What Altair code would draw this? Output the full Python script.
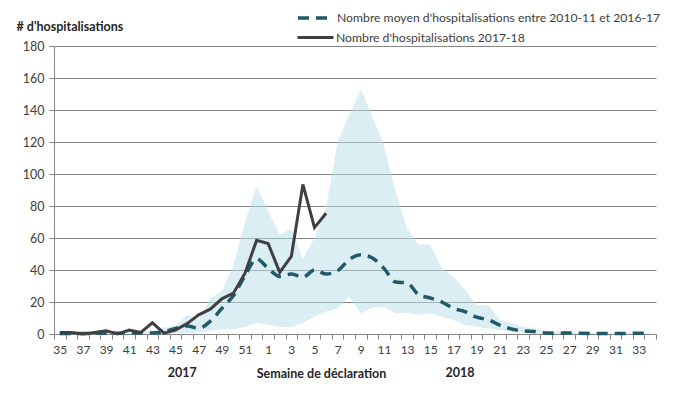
import altair as alt
import pandas as pd

weeks = ["35", "36", "37", "38", "39", "40", "41", "42", "43", "44", "45", "46",
         "47", "48", "49", "50", "51", "52", "1", "2", "3", "4", "5", "6", "7",
         "8", "9", "10", "11", "12", "13", "14", "15", "16", "17", "18", "19",
         "20", "21", "22", "23", "24", "25", "26", "27", "28", "29", "30", "31",
         "32", "33", "34"]

mean_hosp = [0.3, 0.3, 0.3, 0.4, 0.5, 0.5, 0.8, 0.6, 0.7, 1.5, 3.5, 5, 3.5, 8,
             16, 24, 36.5, 47, 41, 36, 37.5, 35.5, 40, 37.5, 39.5, 46.5, 49.5,
             47.5, 41, 32.5, 32, 24.5, 22.5, 20, 16, 14, 10.5, 9, 5.5, 3.2, 2,
             1.5, 0.6, 0.5, 0.6, 0.4, 0.3, 0.3, 0.3, 0.3, 0.5, 0.3]

hosp_1718 = [1, 1, 0, 1, 2, 0, 2.5, 1, 7, 0.5, 2.5, 6.5, 12, 15.5, 22, 25.5,
             38, 58.5, 56.5, 38.5, 48.5, 93.5, 66.5, 75.5]

band_max = [0.5, 0.5, 0.5, 1, 1, 1, 1.5, 1.5, 2, 4, 5, 12, 9, 22, 27, 43, 70,
            92, 77, 62, 66, 47, 60, 79, 120, 137, 153, 136, 118, 89, 66, 56,
            56, 41, 36, 28, 18, 18, 9, 7, 4.6, 3.5, 2, 1.5, 1.5, 1, 1, 1, 1, 1,
            1, 1]

band_min = [0, 0, 0, 0, 0, 0, 0, 0, 0, 0, 0.5, 0.5, 1, 2, 3, 3, 4.5, 7, 6,
            4.6, 4.2, 7, 10.8, 14, 16, 23.5, 13, 16.5, 17, 13, 13.3, 12, 13,
            10.8, 8.75, 5.6, 4.6, 3.5, 2.5, 1.5, 1, 0.5, 0, 0, 0, 0, 0, 0, 0,
            0, 0, 0]

label_weeks = ["35", "37", "39", "41", "43", "45", "47", "49", "51", "1", "3",
               "5", "7", "9", "11", "13", "15", "17", "19", "21", "23", "25",
               "27", "29", "31", "33"]

y_ticks = [0, 20, 40, 60, 80, 100, 120, 140, 160, 180]

year_labels = ["2017", "2018"]
year_weeks = ["46", "18"]

name_mean = "Nombre moyen d'hospitalisations entre 2010-11 et 2016-17"
name_1718 = "Nombre d'hospitalisations 2017-18"

FONT = "Lato"
W, H = 602, 288

df_band = pd.DataFrame({"week": weeks, "lo": band_min, "hi": band_max})
df_mean = pd.DataFrame({"week": weeks, "v": mean_hosp, "s": name_mean})
df_cur = pd.DataFrame({"week": weeks[:len(hosp_1718)], "v": hosp_1718, "s": name_1718})
df_years = pd.DataFrame({"week": year_weeks, "t": year_labels})

label_expr = "indexof([" + ",".join("'" + w + "'" for w in label_weeks) + "], datum.value) >= 0 ? datum.value : ''"

xscale = alt.Scale(type="band", domain=weeks, paddingInner=0, paddingOuter=0)
x_axis = alt.Axis(labelExpr=label_expr, tickBand="extent", labelAngle=0,
                  title="Semaine de déclaration", titleX=267, titleY=39,
                  titleBaseline="middle",
                  titleFont=FONT, titleFontSize=12.5, titleFontWeight="bold",
                  titleColor="#262626",
                  labelFont=FONT, labelFontSize=12, labelColor="#404040",
                  labelPadding=5, tickSize=5, tickColor="#868686",
                  domainColor="#868686", grid=False)
yscale = alt.Scale(domain=[0, 180], nice=False)
y_axis = alt.Axis(values=y_ticks, labelOverlap=False,
                  title="# d'hospitalisations", titleAngle=0, titleAlign="left",
                  titleX=-38, titleY=-20, titleBaseline="middle",
                  titleFont=FONT, titleFontSize=12.5, titleFontWeight="bold",
                  titleColor="#262626",
                  labelFont=FONT, labelFontSize=12.5, labelColor="#404040",
                  labelPadding=5, tickSize=5, tickColor="#868686",
                  domain=True, domainColor="#868686",
                  gridColor="#868686", gridWidth=1)

band = alt.Chart(df_band).mark_area(color="#b5dde8", opacity=0.5).encode(
    x=alt.X("week:O", scale=xscale, bandPosition=0.5, axis=x_axis),
    y=alt.Y("hi:Q", scale=yscale, axis=y_axis),
    y2="lo:Q",
)

mean_line = alt.Chart(df_mean).mark_line(strokeWidth=3.5, strokeDash=[11, 7],
                                         interpolate="monotone").encode(
    x=alt.X("week:O", scale=xscale, bandPosition=0.5, axis=x_axis),
    y=alt.Y("v:Q", scale=yscale, axis=y_axis),
    color=alt.Color("s:N", scale=alt.Scale(domain=[name_mean], range=["#215968"]),
                    legend=alt.Legend(orient="none", legendX=242, legendY=-48,
                                      title=None, symbolType="stroke", symbolSize=1296,
                                      symbolStrokeWidth=3.5, symbolDash=[11, 7],
                                      labelFont=FONT, labelFontSize=12.2,
                                      labelColor="#404040", labelOffset=1,
                                      padding=0, labelLimit=400)),
)

cur_line = alt.Chart(df_cur).mark_line(strokeWidth=3).encode(
    x=alt.X("week:O", scale=xscale, bandPosition=0.5, axis=x_axis),
    y=alt.Y("v:Q", scale=yscale, axis=y_axis),
    color=alt.Color("s:N", scale=alt.Scale(domain=[name_1718], range=["#404040"]),
                    legend=alt.Legend(orient="none", legendX=242, legendY=-28,
                                      title=None, symbolType="stroke", symbolSize=1296,
                                      symbolStrokeWidth=3,
                                      labelFont=FONT, labelFontSize=12.2,
                                      labelColor="#404040", labelOffset=1,
                                      padding=0, labelLimit=400)),
)

years = alt.Chart(df_years).mark_text(font=FONT, fontSize=12.5, fontWeight="bold",
                                      color="#262626", baseline="middle", dx=-5).encode(
    x=alt.X("week:O", scale=xscale, bandPosition=0.5, axis=x_axis),
    y=alt.value(H + 39),
    text="t:N",
)

chart = alt.layer(band, mean_line, cur_line, years).resolve_scale(
    color="independent"
).resolve_legend(color="independent").properties(
    width=W, height=H,
    autosize=alt.AutoSizeParams(type="none"),
    padding={"left": 46, "top": 38, "right": 31, "bottom": 51},
).configure_view(stroke=None)

chart.save("out.html", embed_options={"renderer": "svg", "actions": False})
